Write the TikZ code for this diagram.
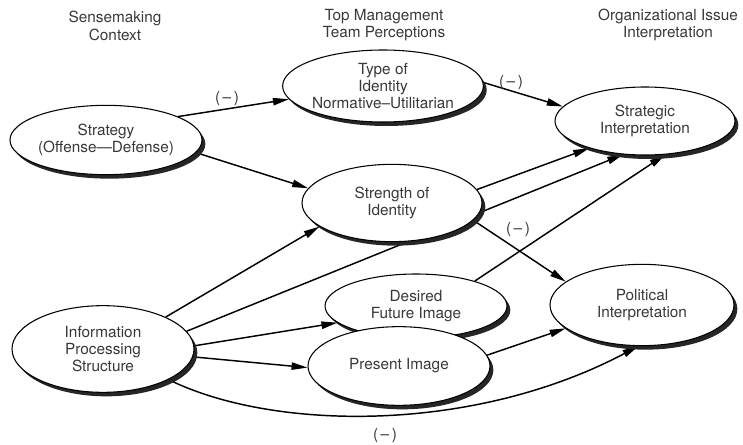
\documentclass[tikz,border=0pt]{standalone}
\usepackage{fontspec}
\setmainfont{TeX Gyre Heros}
\usetikzlibrary{shapes.geometric,shadows,arrows.meta,backgrounds}

\begin{document}
\begin{tikzpicture}[x=0.75pt,y=0.75pt,yscale=-1,xscale=1,
  txt/.style={text=black!78, font=\fontsize{11.5}{13}\selectfont, align=center},
  blob/.style={ellipse, draw, line width=0.8pt, fill=white, inner sep=0pt, txt,
    drop shadow={shadow xshift=2.5pt, shadow yshift=-3pt, fill=black!85, opacity=1}},
  conn/.style={line width=1.1pt, -{Triangle[length=12pt,width=5.5pt]}}]
\useasboundingbox (0,0) rectangle (743,445);

% Text Node
\draw (115,26) node [txt] {Sensemaking\\Context};
% Text Node
\draw (384,25) node [txt] {Top Management\\Team Perceptions};
% Text Node
\draw (668,25) node [txt] {Organizational Issue\\Interpretation};

%Shape: Ellipse
\node [blob, minimum width=139.5pt, minimum height=52pt] (strategy) at (106,140) {Strategy\\(Offense—Defense)};
%Shape: Ellipse
\node [blob, minimum width=135pt, minimum height=54pt] (type) at (383,86) {Type of\\Identity\\Normative–Utilitarian};
%Shape: Ellipse
\node [blob, minimum width=135pt, minimum height=51pt] (strategic) at (645,121) {Strategic\\Interpretation};
%Shape: Ellipse
\node [blob, minimum width=135pt, minimum height=58pt] (strength) at (392,203) {Strength of\\Identity};
%Shape: Ellipse
\node [blob, minimum width=136.5pt, minimum height=65pt] (info) at (103,349) {Information\\Processing\\Structure};
%Shape: Ellipse
\node [blob, minimum width=136.5pt, minimum height=48pt] (desired) at (416,306) {Desired\\Future Image};
%Shape: Ellipse
\node [blob, minimum width=136.5pt, minimum height=59pt] (present) at (399,366) {Present Image};
%Shape: Ellipse
\node [blob, minimum width=138pt, minimum height=61pt] (political) at (642,305) {Political\\Interpretation};

\begin{pgfonlayer}{background}
%Straight Lines
\draw [conn] (strategy.18) -- (type.188);
\draw [conn] (strategy.-8) -- (strength.170);
\draw [conn] (type.2) -- (strategic.170);
\draw [conn] (strength.9) -- (strategic.206);
\draw [conn] (info.12) -- (strategic.237);
\draw [conn] (desired.23) -- (strategic.301);
\draw [conn] (info.27) -- (strength.198);
\draw [conn] (info.2.5) -- (desired.192);
\draw [conn] (info.-5) -- (present.181);
\draw [conn] (strength.-12) -- (political.163);
\draw [conn] (present.7) -- (political.197);
%Curve Lines
\draw [conn] (info.-25) .. controls (270,430) and (470,435) .. (political.265);
\end{pgfonlayer}

% Text Node
\draw (227,99) node [txt] {(\,–\,)};
% Text Node
\draw (511,83) node [txt] {(\,–\,)};
% Text Node
\draw (518,230) node [txt] {(\,–\,)};
% Text Node
\draw (385,436) node [txt] {(\,–\,)};

\end{tikzpicture}
\end{document}
